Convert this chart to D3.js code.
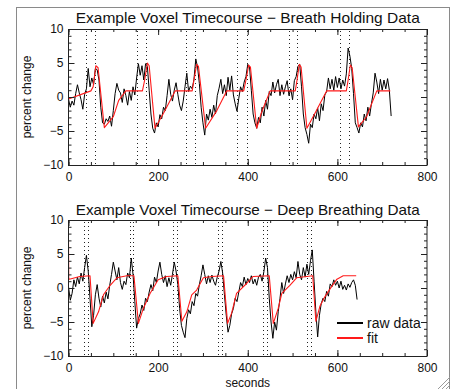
<!DOCTYPE html>
<html>
<head>
<meta charset="utf-8">
<script src="https://cdn.jsdelivr.net/npm/d3@7"></script>
<style>
  html, body { margin: 0; padding: 0; background: #fff; }
  svg { display: block; }
  text { font-family: "Liberation Sans", Arial, sans-serif; fill: #111; }
</style>
</head>
<body>
<svg id="chart" width="457" height="389"></svg>
<script>
// ---- data ----
const breathTitle = 'Example Voxel Timecourse \u2212 Breath Holding Data';
const deepTitle = 'Example Voxel Timecourse \u2212 Deep Breathing Data';
const xTicks = [0, 200, 400, 600, 800];
const yTicks = [-10, -5, 0, 5, 10];
const legendLabels = ['raw data', 'fit'];

// breath holding: raw samples every 4 s from t = 0
const breathRaw = [
  -0.3, -1.5, -0.6, -1.2, 0.5, 1.8, 0.6, -0.4, -1.8, 0.4, 1.2, 4.2, 1.5, 2.8, 1.8, 4.2, 4.0, 2.5, -1.5, -3.8,
  -4.0, -3.2, -3.6, -2.8, -4.3, -2.0, 0.5, 2.0, 1.0, 0.6, -0.8, 1.2, 0.2, -1.2, 0.8, -0.5, 1.5, 0.3, 2.8, 4.9,
  3.2, 4.6, 2.5, 4.9, 4.5, 1.0, -2.5, -4.6, -5.3, -3.8, -4.4, -2.6, -3.2, -1.5, -2.0, 0.2, 2.6, 0.4, -0.6, 1.0,
  2.1, 0.4, -1.2, -2.0, -0.6, 1.5, 3.5, 0.8, 1.6, 1.2, 2.6, 5.6, 4.4, 2.0, -1.5, -3.8, -5.6, -2.5, -3.4, -1.8,
  -3.0, -1.2, -2.5, 0.2, 1.3, 2.6, 0.5, 1.8, 0.2, 2.9, 1.0, 3.1, 0.3, -1.0, -2.1, -0.2, 1.5, 0.8, 2.2, 3.0,
  4.8, 4.4, 1.0, -2.5, -3.8, -4.6, -3.0, -3.8, -1.5, -2.8, -0.5, -1.8, 0.8, 0.2, 2.2, 0.6, 1.8, 2.6, 0.2, 1.8,
  0.4, 1.5, 2.4, 0.2, 1.2, -0.4, 2.4, 3.0, 4.5, 4.8, 1.5, -2.5, -4.5, -5.5, -6.8, -4.0, -4.5, -2.5, -3.2, -1.6,
  -3.5, -1.0, -2.0, 0.3, 0.8, 2.8, 1.2, 2.6, 1.0, 3.0, 1.4, 2.8, 1.2, 2.5, 1.6, 3.4, 7.2, 6.0, 4.2, 0.5,
  -3.8, -4.5, -5.3, -3.8, -4.4, -2.5, -3.5, -1.5, -2.8, -1.0, 0.6, 3.5, 2.2, 0.5, 2.6, 1.0, 2.5, 1.2, 2.7, 1.0,
  -2.8
];
const breathFitT = [0, 50, 55, 61, 66, 80, 100, 112, 128, 165, 170, 176, 180, 193, 212, 238, 276, 280, 286, 290,
  306, 331, 353, 391, 396, 402, 406, 420, 431, 450, 506, 510, 515, 519, 532, 550, 576, 620, 624, 629, 633, 647,
  665, 688, 718];
const breathFitV = [-0.3, 0.9, 1.5, 4.6, 4.3, -4.5, -2.9, -0.5, 0.9, 0.9, 2.5, 5.0, 4.6, -4.6, -2.4, 0.9, 0.9, 2.5,
  4.8, 4.5, -4.6, -2.0, 0.9, 0.9, 2.5, 4.7, 4.4, -4.6, -2.2, 0.9, 0.9, 2.5, 4.8, 4.4, -4.6, -2.4, 0.9, 0.9, 2.5,
  4.7, 4.3, -4.4, -2.9, 0.9, 0.9];
const breathMarks = [40, 59, 152, 174, 262, 282, 377, 399, 492, 511, 606, 627];

// deep breathing: raw samples every 4 s from t = 0
const deepRaw = [
  0.2, -1.8, -0.8, 1.2, 0.2, 1.6, 0.6, 2.2, 1.0, 3.0, 4.8, 2.5, -1.5, -5.7, -4.0, -1.0, 0.5, -1.5, -2.8, -1.2,
  -2.2, -0.6, -1.6, 0.4, 2.0, 3.8, 2.5, 1.2, 3.0, 0.8, -0.2, 1.0, 0.5, 2.2, 1.5, 4.4, 2.0, -2.0, -5.9, -4.5,
  -3.8, -2.5, -3.3, -1.5, -2.0, -0.6, 0.5, -0.4, 1.6, 0.8, 2.5, 3.8, 2.0, 0.8, 1.8, 0.2, 1.5, 0.4, 2.0, 3.8,
  2.5, 0.5, -3.0, -5.5, -6.5, -7.3, -4.5, -3.2, -3.8, -2.0, -2.6, -0.8, -1.2, 0.5, 1.8, 3.4, 2.0, 0.6, 1.8, 0.8,
  1.9, 1.0, 0.4, 1.6, 2.5, 3.9, 2.2, -1.0, -4.0, -6.5, -5.5, -3.8, -3.0, -1.5, -2.0, -0.6, 0.8, 0.2, 1.6, 0.5,
  1.4, 0.8, 1.8, 0.6, 1.3, 0.4, 1.6, 2.0, 1.0, 2.4, 4.4, 3.0, -1.5, -5.0, -7.4, -5.0, -6.2, -3.5, -1.5, 0.8,
  -0.8, 0.6, 1.8, 0.8, 2.0, 1.2, 2.4, 1.5, 3.9, 2.0, 1.2, 3.0, 1.6, 3.5, 2.0, 4.0, 5.6, 1.0, -3.5, -7.2,
  -4.0, -2.3, -1.5, -2.0, -0.5, -1.2, 0.6, 0.2, 1.2, 0.4, 1.0, 0.0, 1.0, -0.2, 0.4, -0.3, 0.6, 0.1, 0.8, 1.2,
  0.4, -1.7
];
const deepFitT = [0, 0.5, 2, 25, 48, 55, 67, 78, 93, 108, 130, 146, 156, 167, 182, 200, 219, 244, 253, 264, 275,
  286, 301, 320, 346, 355, 364, 375, 398, 412, 448, 457, 468, 476, 494, 509, 545, 552, 561, 572, 587, 599, 613, 642];
const deepFitV = [7.0, 1.4, 1.3, 1.7, 1.8, -5.2, -3.5, -1.0, 0.4, 1.5, 1.8, 1.8, -5.2, -3.0, -0.8, 1.2, 1.7, 1.8,
  -4.9, -3.5, -1.0, -0.3, 1.5, 1.7, 1.8, -5.2, -3.7, -0.8, 0.7, 1.7, 1.8, -5.2, -3.0, -0.8, 0.4, 1.5, 1.8, -4.9,
  -2.7, -1.3, 0.2, 1.3, 1.8, 1.8];
const deepMarks = [35, 44, 137, 145, 234, 242, 334, 342, 435, 443, 533, 541];

const SAMPLE_STEP = 4;

// ---- layout ----
const svg = d3.select('#chart');
const PLOT_LEFT = 68.5;
const PLOT_RIGHT = 427;

const panels = [
  { title: breathTitle, top: 29, bottom: 165, titleY: 23, raw: breathRaw, fitT: breathFitT, fitV: breathFitV,
    marks: breathMarks, xLabel: null, legend: false },
  { title: deepTitle, top: 220, bottom: 356, titleY: 215, raw: deepRaw, fitT: deepFitT, fitV: deepFitV,
    marks: deepMarks, xLabel: 'seconds', legend: true }
];

// window-ish frame around the plots
svg.append('rect')
  .attr('x', 16.5).attr('y', 7.5)
  .attr('width', 433).attr('height', 400)
  .attr('fill', '#fff')
  .attr('stroke', '#8a8a8a');

// resize grip in the corner
const grip = svg.append('g').attr('stroke', '#9a9a9a').attr('stroke-width', 1);
[4, 8, 12].forEach(d => {
  grip.append('line')
    .attr('x1', 450 - d).attr('y1', 389)
    .attr('x2', 450).attr('y2', 389 - d);
});

const x = d3.scaleLinear().domain([0, 800]).range([PLOT_LEFT, PLOT_RIGHT]);

panels.forEach(p => {
  const y = d3.scaleLinear().domain([-10, 10]).range([p.bottom, p.top]);
  const g = svg.append('g');

  // title
  g.append('text')
    .attr('x', (PLOT_LEFT + PLOT_RIGHT) / 2)
    .attr('y', p.titleY)
    .attr('text-anchor', 'middle')
    .attr('font-size', 15)
    .attr('textLength', 344)
    .attr('lengthAdjust', 'spacingAndGlyphs')
    .text(p.title);

  // dotted marker lines
  g.append('g')
    .selectAll('line')
    .data(p.marks)
    .join('line')
    .attr('x1', d => Math.round(x(d)) + 0.5)
    .attr('x2', d => Math.round(x(d)) + 0.5)
    .attr('y1', p.top + 2)
    .attr('y2', p.bottom)
    .attr('stroke', '#222')
    .attr('stroke-width', 1)
    .attr('stroke-dasharray', '1,3');

  const clipId = 'clip' + p.top;
  g.append('clipPath').attr('id', clipId)
    .append('rect')
    .attr('x', PLOT_LEFT).attr('y', p.top)
    .attr('width', PLOT_RIGHT - PLOT_LEFT).attr('height', p.bottom - p.top);

  const lines = g.append('g').attr('clip-path', `url(#${clipId})`);

  const rawLine = d3.line()
    .x((d, i) => x(i * SAMPLE_STEP))
    .y(d => y(d));
  lines.append('path')
    .attr('d', rawLine(p.raw))
    .attr('fill', 'none')
    .attr('stroke', '#000')
    .attr('stroke-width', 1)
    .attr('stroke-linejoin', 'round');

  const fitLine = d3.line()
    .x((d, i) => x(p.fitT[i]))
    .y(d => y(d));
  lines.append('path')
    .attr('d', fitLine(p.fitV))
    .attr('fill', 'none')
    .attr('stroke', '#ff1a1a')
    .attr('stroke-width', 1.1)
    .attr('stroke-linejoin', 'round');

  // axes: minor + major ticks on all four sides, pointing inward
  const xMinor = d3.range(0, 801, 50);
  const yMinor = d3.range(-10, 10.01, 1);

  const addAxis = (axis, transform, hideLabels) => {
    const a = g.append('g').attr('transform', transform).call(axis);
    a.select('.domain').remove();
    a.selectAll('line').attr('stroke', '#222');
    a.selectAll('text')
      .attr('font-size', 12)
      .attr('font-family', '"Liberation Sans", Arial, sans-serif')
      .attr('fill', '#111');
    if (hideLabels) a.selectAll('text').remove();
    return a;
  };

  addAxis(d3.axisBottom(x).tickValues(xMinor).tickSize(-3).tickFormat(''), `translate(0,${p.bottom})`, true);
  addAxis(d3.axisTop(x).tickValues(xMinor).tickSize(-3).tickFormat(''), `translate(0,${p.top})`, true);
  addAxis(d3.axisBottom(x).tickValues(xTicks).tickSize(-6).tickPadding(7).tickFormat(d3.format('d')),
    `translate(0,${p.bottom})`, false);
  addAxis(d3.axisTop(x).tickValues(xTicks).tickSize(-6), `translate(0,${p.top})`, true);

  addAxis(d3.axisLeft(y).tickValues(yMinor).tickSize(-3).tickFormat(''), `translate(${PLOT_LEFT},0)`, true);
  addAxis(d3.axisRight(y).tickValues(yMinor).tickSize(-3).tickFormat(''), `translate(${PLOT_RIGHT},0)`, true);
  addAxis(d3.axisLeft(y).tickValues(yTicks).tickSize(-6).tickPadding(5)
    .tickFormat(d => d < 0 ? '\u2212' + Math.abs(d) : d), `translate(${PLOT_LEFT},0)`, false);
  addAxis(d3.axisRight(y).tickValues(yTicks).tickSize(-6), `translate(${PLOT_RIGHT},0)`, true);

  // plot box
  g.append('rect')
    .attr('x', PLOT_LEFT).attr('y', p.top + 0.5)
    .attr('width', PLOT_RIGHT - PLOT_LEFT).attr('height', p.bottom - p.top)
    .attr('fill', 'none')
    .attr('stroke', '#222');

  // y label
  g.append('text')
    .attr('transform', `translate(31,${(p.top + p.bottom) / 2}) rotate(-90)`)
    .attr('text-anchor', 'middle')
    .attr('font-size', 12)
    .text('percent change');

  if (p.xLabel) {
    g.append('text')
      .attr('x', (PLOT_LEFT + PLOT_RIGHT) / 2)
      .attr('y', 387)
      .attr('text-anchor', 'middle')
      .attr('font-size', 12)
      .text(p.xLabel);
  }

  if (p.legend) {
    const colors = ['#000', '#ff1a1a'];
    const lg = g.append('g');
    legendLabels.forEach((label, i) => {
      const ly = 323 + i * 15;
      lg.append('line')
        .attr('x1', 337).attr('x2', 363)
        .attr('y1', ly).attr('y2', ly)
        .attr('stroke', colors[i])
        .attr('stroke-width', 2);
      lg.append('text')
        .attr('x', 367).attr('y', ly + 5)
        .attr('font-size', 14)
        .text(label);
    });
  }
});
</script>
</body>
</html>
